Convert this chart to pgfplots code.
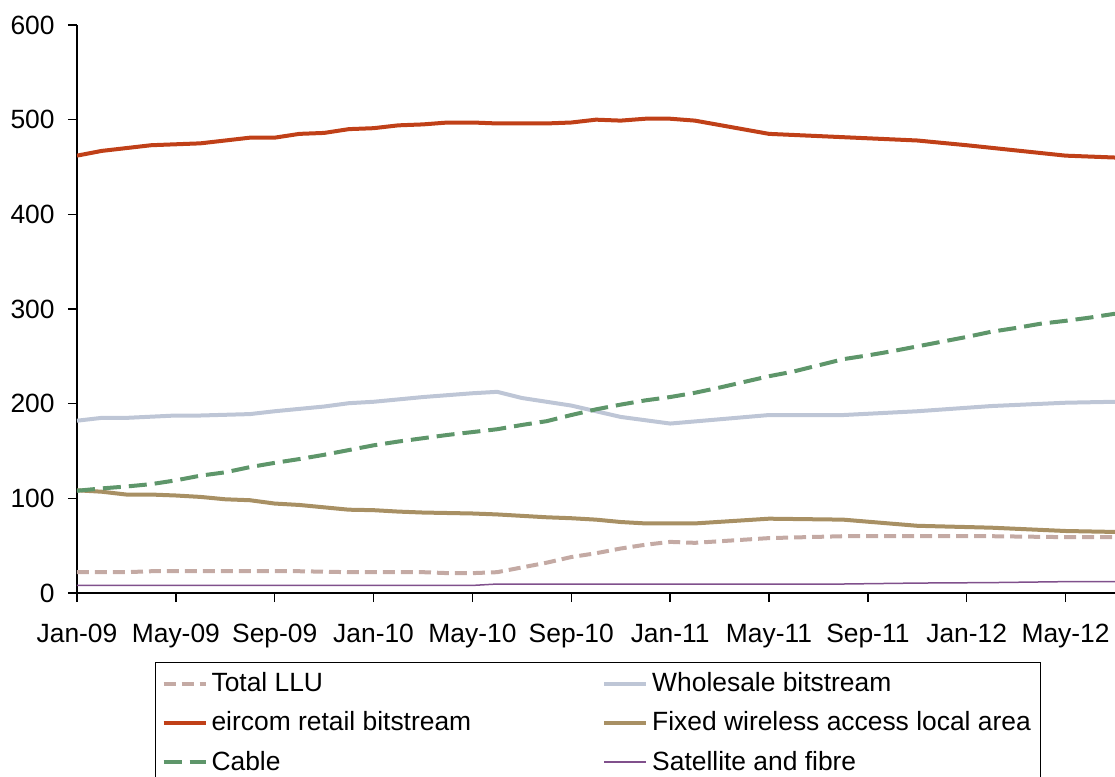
\documentclass[border=0pt]{standalone}
\usepackage{fontspec}
\setmainfont{Liberation Sans}
\usepackage{pgfplots}
\pgfplotsset{compat=1.18}

\definecolor{llu}{RGB}{196,170,164}
\definecolor{wholesale}{RGB}{190,198,214}
\definecolor{eircom}{RGB}{192,64,24}
\definecolor{fwa}{RGB}{168,144,100}
\definecolor{cable}{RGB}{94,150,106}
\definecolor{sat}{RGB}{128,80,140}

\begin{document}
\begin{tikzpicture}
	\begin{axis}[
	scale only axis,
	width=519pt, height=284pt,
	xmin=0, xmax=42,
	ymin=0, ymax=600,
	axis lines*=left,
	axis line style={black, line width=0.7pt},
	tick style={black, line width=0.7pt},
	tick align=outside,
	major tick length=4.5pt,
	xtick={0,4,...,40},
	xticklabels={Jan-09,May-09,Sep-09,Jan-10,May-10,Sep-10,Jan-11,May-11,Sep-11,Jan-12,May-12},
	ytick={0,100,...,600},
	font=\fontsize{13.2}{15.5}\selectfont,
	/pgf/number format/assume math mode=true,
	yticklabel style={inner sep=0pt, anchor=east, xshift=-6.5pt},
	xticklabel style={inner sep=0pt, anchor=north, yshift=-11pt},
	legend columns=2,
	legend cell align=left,
	legend style={at={(0.0751,-0.1215)}, anchor=north west,
		draw=black, line width=0.6pt, inner xsep=3pt, inner ysep=4pt,
		row sep=6.5pt,
		font=\fontsize{13.2}{15.5}\selectfont,
		nodes={inner xsep=2pt, inner ysep=1pt},
		/tikz/every even column/.append style={column sep=63.5pt}},
	legend image code/.code={\draw[#1] (0pt,0pt) -- (21pt,0pt);},
	]
	\coordinate (O) at (rel axis cs:0,0);
	\coordinate (T) at (rel axis cs:1,1);

	% Total LLU
	\addplot[llu, line width=2pt, dash pattern=on 6pt off 3pt] coordinates {
		(0,22) (1,22) (2,22) (3,23) (4,23) (5,23) (6,23) (7,23) (8,23) (9,23)
		(10,22.5) (11,22) (12,22) (13,22) (14,22) (15,21) (16,21) (17,22)
		(18,27) (19,32) (20,38) (21,42) (22,47) (23,51) (24,54) (25,53)
		(28,58) (31,60) (34,60) (37,60) (40,59) (42,59) };
	% Wholesale bitstream
	\addplot[wholesale, line width=2pt] coordinates {
		(0,182) (1,185) (2,185) (4,187.5) (5,187.5) (7,189) (8,192) (10,197)
		(11,200.5) (12,202) (14,207) (15,209) (16,211) (17,212.5) (18,206)
		(20,198) (22,186) (24,179) (28,188) (31,188) (34,192) (37,197.5)
		(40,201) (42,202) };
	% eircom retail bitstream
	\addplot[eircom, line width=2pt] coordinates {
		(0,462) (1,467) (2,470) (3,473) (4,474) (5,475) (6,478) (7,481) (8,481)
		(9,485) (10,486) (11,490) (12,491) (13,494) (14,495) (15,497) (16,497)
		(17,496) (18,496) (19,496) (20,497) (21,500) (22,499) (23,501) (24,501)
		(25,499) (28,485) (34,478) (36,473) (40,462) (42,460) };
	% Fixed wireless access local area
	\addplot[fwa, line width=2pt] coordinates {
		(0,108.5) (1,107) (2,104) (3,104) (4,103) (5,101.5) (6,99) (7,98)
		(8,94.5) (9,93) (10,90.5) (11,88) (12,87.5) (13,86) (14,85) (15,84.5)
		(16,84) (17,83) (18,81.5) (19,80) (20,79) (21,77.5) (22,75) (23,73.5)
		(25,73.5) (28,78.5) (31,77.5) (34,71) (37,69) (40,65.5) (42,64.5) };
	% Cable
	\addplot[cable, line width=2pt, dash pattern=on 9pt off 4pt] coordinates {
		(0,108) (1,110.5) (2,112.5) (3,115) (4,119) (5,124) (6,127.5) (7,133)
		(8,137.5) (9,141.5) (10,146) (11,151) (12,156) (13,160) (14,163.5)
		(15,167) (16,170) (17,173) (18,177.5) (19,181.5) (20,188) (21,194)
		(22,199) (23,203.5) (24,207) (25,211.5) (26,217) (27,223) (28,229)
		(29,234) (30,240.5) (31,247) (32,251) (33,255.5) (34,260.5) (35,265.5)
		(36,270.5) (37,276) (38,280) (39,284.5) (40,287.5) (41,291) (42,295) };
	% Satellite and fibre
	\addplot[sat, line width=0.75pt] coordinates {
		(0,8) (16,8) (17,9.5) (31,9.5) (34,10.5) (37,11) (40,12) (42,12) };

	\legend{Total LLU, Wholesale bitstream, eircom retail bitstream,
		Fixed wireless access local area, Cable, Satellite and fibre}
	\end{axis}
	\pgfresetboundingbox
	\path[use as bounding box] ([xshift=-38.5pt,yshift=-91.5pt]O) rectangle ([yshift=12.5pt]T);
\end{tikzpicture}
\end{document}
